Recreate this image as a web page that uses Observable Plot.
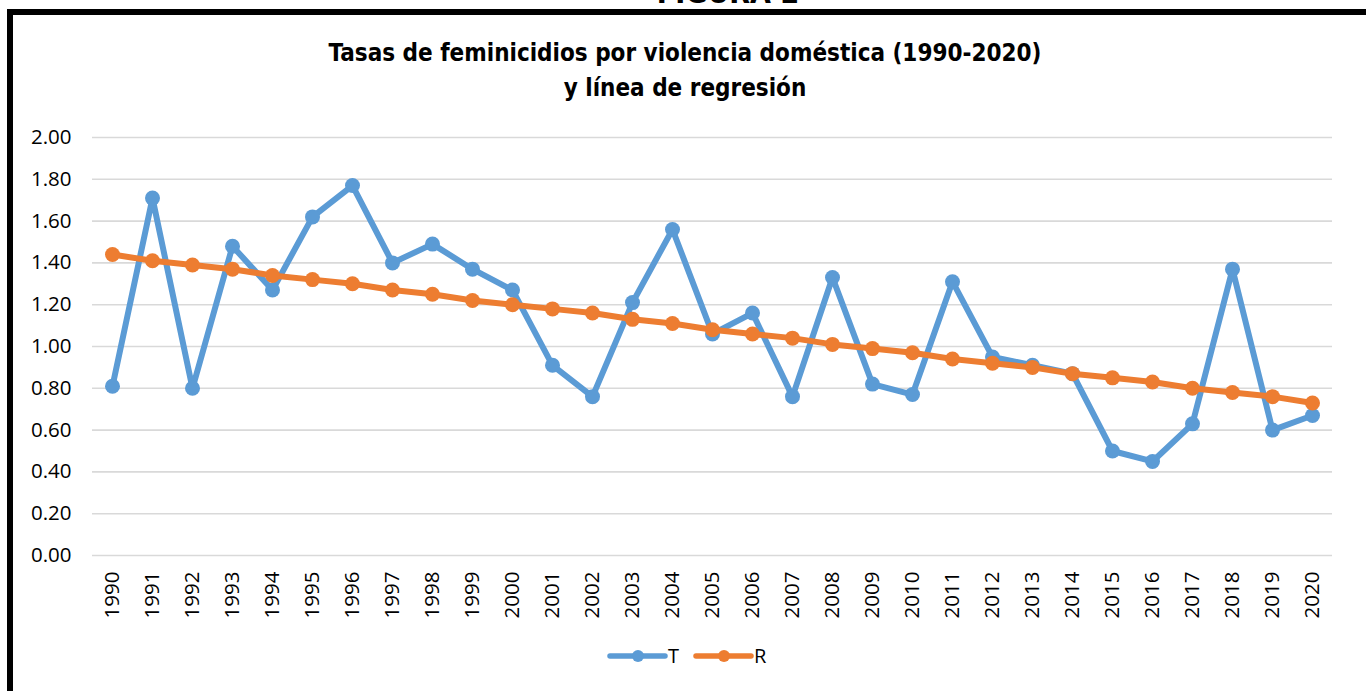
<!DOCTYPE html>
<html>
<head>
<meta charset="utf-8">
<script src="https://cdn.jsdelivr.net/npm/d3@7"></script>
<script src="https://cdn.jsdelivr.net/npm/@observablehq/plot@0.6"></script>
<style>
  html, body { margin: 0; padding: 0; background: #fff; }
  body { width: 1366px; height: 691px; overflow: hidden; position: relative; }
  #fig { position: absolute; left: 0; width: 1366px; top: -25px; text-align: center; font-family: "DejaVu Sans Condensed", sans-serif; font-weight: bold; font-size: 30px; padding-left: 90px; box-sizing: border-box; }
  #frame { position: absolute; left: 7px; top: 9px; width: 1370px; height: 720px; border: 6px solid #000; box-sizing: border-box; }
  #title { position: absolute; left: 0; width: 1370px; top: 36px; text-align: center; font-family: "DejaVu Sans Condensed", sans-serif; font-weight: bold; font-size: 24px; line-height: 35px; color: #000; }
  #chart { position: absolute; left: 0; top: 0; }
  #legend { position: absolute; left: 0; top: 640px; }
  #legend text { font-family: "Open Sans", sans-serif; font-size: 20px; }
</style>
</head>
<body>
<div id="fig">FIGURA 2</div>
<div id="frame"></div>
<div id="title">Tasas de feminicidios por violencia doméstica (1990-2020)<br>y línea de regresión</div>
<div id="chart"></div>
<svg id="legend" width="1366" height="40"></svg>
<script>
const years = [1990,1991,1992,1993,1994,1995,1996,1997,1998,1999,2000,2001,2002,2003,2004,2005,2006,2007,2008,2009,2010,2011,2012,2013,2014,2015,2016,2017,2018,2019,2020];
const seriesT = [0.81,1.71,0.80,1.48,1.27,1.62,1.77,1.40,1.49,1.37,1.27,0.91,0.76,1.21,1.56,1.06,1.16,0.76,1.33,0.82,0.77,1.31,0.95,0.91,0.87,0.50,0.45,0.63,1.37,0.60,0.67];
const seriesR = [1.44,1.41,1.39,1.37,1.34,1.32,1.30,1.27,1.25,1.22,1.20,1.18,1.16,1.13,1.11,1.08,1.06,1.04,1.01,0.99,0.97,0.94,0.92,0.90,0.87,0.85,0.83,0.80,0.78,0.76,0.73];
const yTicks = [0,0.2,0.4,0.6,0.8,1.0,1.2,1.4,1.6,1.8,2.0];
const seriesNames = ["T", "R"];
const colors = ["#5B9BD5", "#ED7D31"];

const data = years.map((y, i) => ({year: y, T: seriesT[i], R: seriesR[i]}));

const plot = Plot.plot({
  width: 1366,
  height: 691,
  marginLeft: 92,
  marginRight: 34,
  marginTop: 137,
  marginBottom: 136,
  style: {fontFamily: "'Open Sans', sans-serif", fontSize: "20.5px", color: "#000", background: "transparent"},
  x: {type: "point", domain: years, padding: 0.5, label: null},
  y: {domain: [0, 2], label: null},
  marks: [
    Plot.gridY(yTicks, {stroke: "#d9d9d9", strokeOpacity: 1, strokeWidth: 1.6}),
    Plot.axisY(yTicks, {tickSize: 0, tickPadding: 21, tickFormat: d3.format(".2f"), label: null, fill: "#000"}),
    Plot.axisX(years, {tickSize: 0, tickPadding: 16, tickRotate: -90, tickFormat: d => String(d), label: null, fill: "#000"}),
    Plot.line(data, {x: "year", y: "T", stroke: colors[0], strokeWidth: 6}),
    Plot.dot(data, {x: "year", y: "T", r: 7.5, fill: colors[0], stroke: "none"}),
    Plot.line(data, {x: "year", y: "R", stroke: colors[1], strokeWidth: 6}),
    Plot.dot(data, {x: "year", y: "R", r: 7.5, fill: colors[1], stroke: "none"})
  ]
});
document.getElementById("chart").appendChild(plot);

// legend
const lg = d3.select("#legend");
const items = [{x0: 610, name: seriesNames[0], c: colors[0]}, {x0: 696, name: seriesNames[1], c: colors[1]}];
items.forEach(it => {
  lg.append("line").attr("x1", it.x0).attr("x2", it.x0 + 55).attr("y1", 16).attr("y2", 16)
    .attr("stroke", it.c).attr("stroke-width", 5.5).attr("stroke-linecap", "round");
  lg.append("circle").attr("cx", it.x0 + 28).attr("cy", 16).attr("r", 6).attr("fill", it.c);
  lg.append("text").attr("x", it.x0 + 58).attr("y", 16).attr("dy", "0.35em").attr("fill", "#000").text(it.name);
});
</script>
</body>
</html>
